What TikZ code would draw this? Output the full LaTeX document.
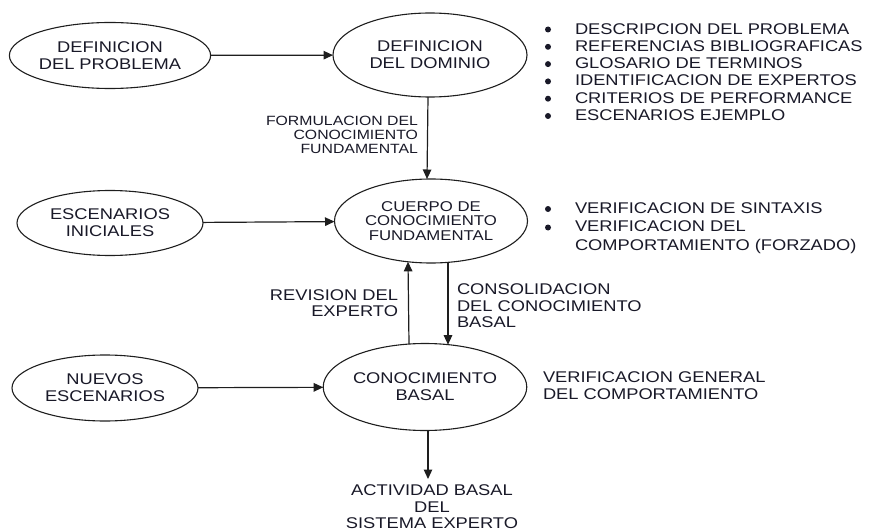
\documentclass[tikz,border=0pt]{standalone}
\usepackage{fontspec}
\setmainfont[FakeStretch=1.18]{Liberation Sans}
\usetikzlibrary{shapes.geometric,arrows.meta}

\definecolor{ink}{RGB}{25,25,40}
\definecolor{edge}{RGB}{30,30,30}

\begin{document}
\begin{tikzpicture}[x=1pt,y=-1pt,
  every node/.style={text=ink, inner sep=0pt, outer sep=0pt},
  bubble/.style={ellipse, draw=edge, line width=1.1pt, align=center,
    font=\fontsize{15.5}{17}\selectfont},
  smallbubble/.style={bubble, font=\fontsize{14.2}{14.8}\selectfont},
  note/.style={font=\fontsize{15.5}{16.5}\selectfont},
  smallnote/.style={font=\fontsize{13.4}{14}\selectfont},
  bullets/.style={font=\fontsize{15.5}{17.3}\selectfont, align=left, anchor=west},
  dot/.style={fill=ink},
  arr/.style={draw=edge, line width=1.2pt, -{Triangle[length=9.5pt,width=8.5pt]}}
]
\useasboundingbox (0,0) rectangle (870,532);

% ellipses
\node[bubble, minimum width=186pt, minimum height=66pt] (defprob) at (110,55.5)
  {DEFINICION\\DEL PROBLEMA};
\node[bubble, minimum width=194pt, minimum height=84pt] (defdom) at (430,55)
  {DEFINICION\\DEL DOMINIO};
\node[bubble, minimum width=186pt, minimum height=65pt] (escini) at (110,223)
  {ESCENARIOS\\INICIALES};
\node[smallbubble, minimum width=193pt, minimum height=84pt] (cuerpo) at (431,221)
  {CUERPO DE\\CONOCIMIENTO\\FUNDAMENTAL};
\node[bubble, minimum width=186pt, minimum height=66pt] (nuevos) at (105,388)
  {NUEVOS\\ESCENARIOS};
\node[bubble, minimum width=194pt, minimum height=87pt] (basal) at (425,387)
  {CONOCIMIENTO\\BASAL};

% labels
\node[smallnote, align=right, anchor=east] (formul) at (418,135)
  {FORMULACION DEL\\CONOCIMIENTO\\FUNDAMENTAL};
\node[note, align=right, anchor=east] (revision) at (398,303)
  {REVISION DEL\\EXPERTO};
\node[note, align=left, anchor=west] (consol) at (457,306)
  {CONSOLIDACION\\DEL CONOCIMIENTO\\BASAL};
\node[note, align=left, anchor=west] (vergen) at (543,385.5)
  {VERIFICACION GENERAL\\DEL COMPORTAMIENTO};
\node[note, align=center] (activ) at (432,507)
  {ACTIVIDAD BASAL\\DEL\\SISTEMA EXPERTO};

% item lists
\node[bullets] (list1) at (575,72)
  {DESCRIPCION DEL PROBLEMA\\
   REFERENCIAS BIBLIOGRAFICAS\\
   GLOSARIO DE TERMINOS\\
   IDENTIFICACION DE EXPERTOS\\
   CRITERIOS DE PERFORMANCE\\
   ESCENARIOS EJEMPLO};
\node[bullets, font=\fontsize{15.5}{18.7}\selectfont] (list2) at (575,228)
  {VERIFICACION DE SINTAXIS\\
   VERIFICACION DEL\\
   COMPORTAMIENTO (FORZADO)};

% bullet marks
\foreach \i in {0,...,5}
  \fill[dot] (548,29.5+17.3*\i) circle (3pt);
\foreach \yy in {209,227.5}
  \fill[dot] (548,\yy) circle (3pt);

% connectors
\draw[arr] (defprob) -- (defdom);
\draw[arr] ([xshift=-2pt]defdom.south) -- ([xshift=-4pt]cuerpo.north);
\draw[arr] (escini) -- (cuerpo);
\draw[arr] (nuevos) -- (basal);
\draw[arr] ([xshift=-16pt,yshift=-0.6pt]basal.north) -- ([xshift=-23pt,yshift=1.2pt]cuerpo.south);
\draw[arr] ([xshift=17pt,yshift=1.3pt]cuerpo.south) -- ([xshift=23pt,yshift=-1.2pt]basal.north);
\draw[arr] ([xshift=3pt]basal.south) -- ([xshift=-4pt,yshift=6pt]activ.north);
\end{tikzpicture}
\end{document}
